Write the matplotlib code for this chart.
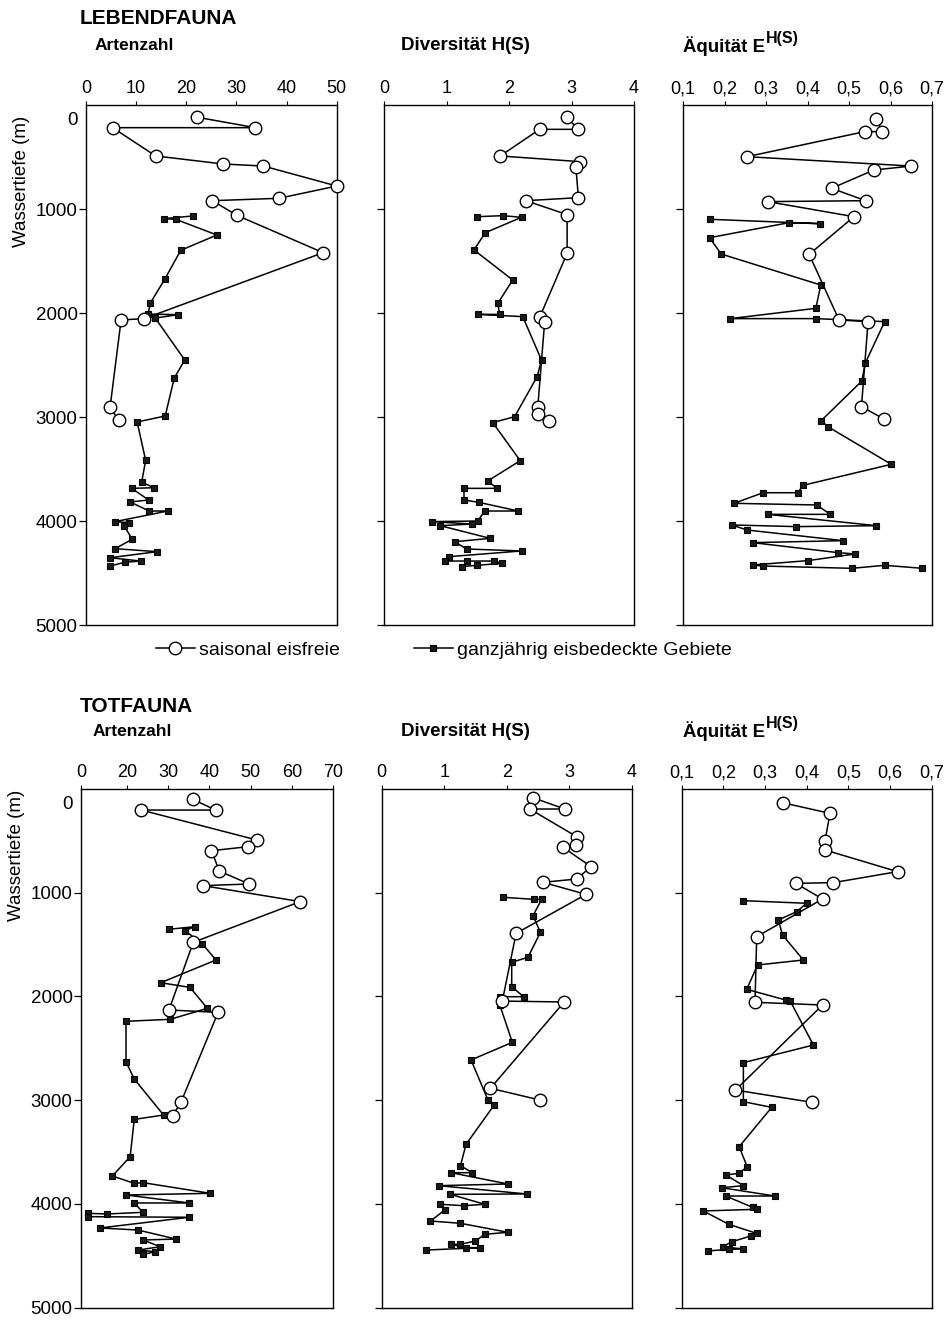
import matplotlib
matplotlib.use('Agg')
import matplotlib.pyplot as plt
from matplotlib.lines import Line2D

plt.rcParams['font.family'] = ['Liberation Sans', 'DejaVu Sans']

# ---------------- DATA ----------------
# LEBENDFAUNA - Artenzahl
leb_art_circ_val = [22.2, 33.8, 5.3, 13.9, 27.3, 35.4, 50.0, 38.5, 25.2, 30.1, 47.3, 11.6, 7.0, 4.8, 6.5]
leb_art_circ_dep = [118, 218, 218, 490, 567, 587, 779, 897, 920, 1061, 1420, 2054, 2067, 2907, 3029]
leb_art_sq_val = [21.3, 15.5, 17.9, 26.1, 18.9, 15.7, 12.8, 12.4, 18.4, 13.8, 19.7, 17.6, 15.8, 10.2, 11.9,
                  11.1, 13.6, 9.1, 12.5, 8.8, 12.6, 16.3, 5.8, 8.6, 7.6, 9.2, 5.8, 14.2, 4.8, 10.9, 7.7, 4.8]
leb_art_sq_dep = [1067, 1093, 1099, 1250, 1397, 1676, 1907, 2010, 2016, 2048, 2452, 2625, 2990, 3048, 3417,
                  3628, 3680, 3686, 3798, 3817, 3904, 3904, 4006, 4016, 4045, 4176, 4266, 4295, 4353, 4385, 4397, 4433]

# LEBENDFAUNA - Diversitaet
leb_div_circ_val = [2.92, 3.11, 2.49, 1.86, 3.14, 3.07, 3.11, 2.27, 2.93, 2.93, 2.49, 2.57, 2.46, 2.46, 2.64]
leb_div_circ_dep = [118, 234, 234, 490, 545, 593, 891, 920, 1054, 1426, 2042, 2090, 2907, 2971, 3035]
leb_div_sq_val = [1.49, 1.90, 2.20, 1.62, 1.44, 2.06, 1.82, 1.85, 1.50, 2.22, 2.52, 2.45, 2.09, 1.74, 2.18,
                  1.66, 1.81, 1.28, 1.28, 1.52, 2.15, 1.61, 1.50, 0.76, 1.41, 0.90, 1.70, 1.13, 1.32, 2.20,
                  1.04, 0.97, 1.32, 1.76, 1.88, 1.49, 1.24]
leb_div_sq_dep = [1074, 1064, 1080, 1228, 1394, 1683, 1907, 2013, 2013, 2035, 2452, 2612, 2997, 3054, 3420,
                  3615, 3686, 3686, 3798, 3821, 3904, 3904, 4000, 4006, 4029, 4045, 4167, 4199, 4269, 4288,
                  4343, 4385, 4385, 4385, 4407, 4426, 4439]

# LEBENDFAUNA - Aequitaet
leb_aeq_circ_val = [0.566, 0.58, 0.538, 0.254, 0.65, 0.56, 0.458, 0.54, 0.304, 0.512, 0.404, 0.476, 0.546, 0.53, 0.584]
leb_aeq_circ_dep = [131, 256, 256, 497, 587, 625, 801, 920, 929, 1074, 1436, 2067, 2083, 2900, 3019]
leb_aeq_sq_val = [0.164, 0.43, 0.356, 0.164, 0.192, 0.432, 0.42, 0.214, 0.42, 0.586, 0.539, 0.531, 0.433, 0.449,
                  0.602, 0.389, 0.377, 0.293, 0.223, 0.422, 0.455, 0.304, 0.566, 0.373, 0.217, 0.255, 0.486,
                  0.268, 0.473, 0.515, 0.401, 0.268, 0.293, 0.507, 0.586, 0.677]
leb_aeq_sq_dep = [1099, 1141, 1131, 1276, 1433, 1731, 1955, 2054, 2054, 2083, 2484, 2654, 3035, 3093,
                  3455, 3657, 3728, 3728, 3830, 3846, 3936, 3936, 4045, 4054, 4038, 4087, 4189,
                  4208, 4304, 4317, 4381, 4423, 4433, 4455, 4426, 4455]

# TOTFAUNA - Artenzahl
tot_art_circ_val = [36.0, 41.5, 23.5, 51.5, 49.4, 40.5, 42.4, 49.6, 38.5, 62.0, 36.1, 30.2, 42.1, 33.1, 31.1]
tot_art_circ_dep = [100, 203, 203, 492, 556, 595, 791, 916, 932, 1086, 1478, 2131, 2154, 3021, 3150]
tot_art_sq_val = [30.1, 36.4, 34.1, 38.3, 41.6, 28.2, 35.3, 39.5, 30.5, 19.8, 19.8, 21.8, 28.9, 21.8, 20.8,
                  16.5, 21.8, 23.9, 40.2, 19.8, 35.1, 21.8, 23.9, 15.3, 10.6, 10.6, 35.1, 13.5, 22.7, 31.9,
                  23.9, 28.1, 22.7, 26.9, 23.9]
tot_art_sq_dep = [1353, 1328, 1366, 1495, 1649, 1868, 1913, 2115, 2221, 2240, 2630, 2797, 3144, 3186, 3546,
                  3732, 3803, 3796, 3899, 3915, 3992, 3992, 4082, 4098, 4092, 4124, 4130, 4233, 4253, 4340,
                  4349, 4414, 4446, 4462, 4488]

# TOTFAUNA - Diversitaet
tot_div_circ_val = [2.42, 2.93, 2.37, 3.12, 3.11, 2.90, 3.35, 3.12, 2.58, 3.27, 2.15, 1.93, 2.92, 1.74, 2.53]
tot_div_circ_dep = [84, 193, 193, 460, 540, 562, 749, 868, 900, 1016, 1392, 2045, 2054, 2886, 2999]
tot_div_sq_val = [1.94, 2.43, 2.56, 2.42, 2.54, 2.34, 2.08, 2.08, 2.27, 1.89, 1.89, 1.89, 2.09, 1.43, 1.70,
                  1.80, 1.35, 1.26, 1.45, 1.11, 2.02, 0.91, 2.32, 1.10, 1.65, 1.31, 0.94, 1.01, 0.78, 1.26,
                  2.02, 1.65, 1.50, 1.25, 1.11, 1.35, 1.58, 0.71]
tot_div_sq_dep = [1044, 1064, 1064, 1222, 1382, 1623, 1671, 1906, 2003, 2003, 2041, 2083, 2443, 2613, 2999,
                  3047, 3426, 3632, 3700, 3700, 3809, 3825, 3905, 3909, 4005, 4018, 4005, 4060, 4166, 4188,
                  4275, 4294, 4359, 4391, 4391, 4423, 4423, 4446]

# TOTFAUNA - Aequitaet
tot_aeq_circ_val = [0.342, 0.456, 0.444, 0.444, 0.618, 0.464, 0.374, 0.438, 0.28, 0.276, 0.438, 0.229, 0.412]
tot_aeq_circ_dep = [132, 235, 498, 588, 797, 903, 910, 1061, 1424, 2057, 2083, 2903, 3021]
tot_aeq_sq_val = [0.248, 0.40, 0.376, 0.332, 0.342, 0.392, 0.282, 0.256, 0.35, 0.36, 0.416, 0.248, 0.248,
                  0.316, 0.238, 0.257, 0.238, 0.206, 0.248, 0.196, 0.324, 0.206, 0.27, 0.28, 0.152, 0.213,
                  0.28, 0.266, 0.221, 0.198, 0.248, 0.213, 0.162]
tot_aeq_sq_dep = [1077, 1102, 1183, 1263, 1408, 1649, 1697, 1932, 2035, 2041, 2469, 2639, 3015,
                  3070, 3449, 3642, 3706, 3722, 3825, 3845, 3925, 3925, 4034, 4053, 4069, 4198,
                  4285, 4310, 4365, 4414, 4436, 4439, 4455]

# Axis tick labels
depth_ticks = [1000, 2000, 3000, 4000, 5000]
depth_ticklabels = ['1000', '2000', '3000', '4000', '5000']
art_top_ticks = [0, 10, 20, 30, 40, 50]
art_top_labels = ['0', '10', '20', '30', '40', '50']
art_bot_ticks = [8.9, 20, 30, 40, 50, 60, 70]
art_bot_labels = ['0', '20', '30', '40', '50', '60', '70']
div_ticks = [0, 1, 2, 3, 4]
div_labels = ['0', '1', '2', '3', '4']
aeq_ticks = [0.1, 0.2, 0.3, 0.4, 0.5, 0.6, 0.7]
aeq_labels = ['0,1', '0,2', '0,3', '0,4', '0,5', '0,6', '0,7']

legend_labels = ['saisonal eisfreie', 'ganzjährig eisbedeckte Gebiete']

# ---------------- FIGURE ----------------
W, H = 946, 1323
fig = plt.figure(figsize=(W / 100, H / 100), dpi=100)


def rect(l, r, t, b):
    return [l / W, 1 - b / H, (r - l) / W, (b - t) / H]


SQ = dict(color='k', lw=1.1, marker='s', ms=4.6, mfc='#1a1a1a', mec='k', mew=0.8, clip_on=False, zorder=2)
CI = dict(color='k', lw=1.1, marker='o', ms=9, mfc='white', mec='k', mew=1.0, clip_on=False, zorder=3)


def panel(px, xlim, xt, xtl, cv, cd, sv, sd, show_ylabels):
    ax = fig.add_axes(rect(*px))
    ax.plot(sv, sd, **SQ)
    ax.plot(cv, cd, **CI)
    ax.set_xlim(*xlim)
    ax.set_ylim(5000, 0)
    ax.xaxis.tick_top()
    ax.set_xticks(xt)
    ax.set_xticklabels(xtl)
    ax.tick_params(axis='x', direction='out', length=3, width=0.8, pad=2.5, labelsize=13)
    ax.tick_params(axis='y', direction='out', length=5, width=0.9, pad=1, labelsize=13.5)
    if show_ylabels:
        ax.set_yticks([130] + depth_ticks)
        ax.set_yticklabels(['0'] + depth_ticklabels)
        ax.yaxis.get_major_ticks()[0].tick1line.set_visible(False)
    else:
        ax.set_yticks(depth_ticks)
        ax.set_yticklabels([])
    for s in ax.spines.values():
        s.set_linewidth(1.0)
    return ax


# top row
panel((86, 336.7, 105, 625), (0, 50), art_top_ticks, art_top_labels,
      leb_art_circ_val, leb_art_circ_dep, leb_art_sq_val, leb_art_sq_dep, True)
panel((384, 634, 105, 625), (0, 4), div_ticks, div_labels,
      leb_div_circ_val, leb_div_circ_dep, leb_div_sq_val, leb_div_sq_dep, False)
panel((683, 932, 105, 625), (0.1, 0.7), aeq_ticks, aeq_labels,
      leb_aeq_circ_val, leb_aeq_circ_dep, leb_aeq_sq_val, leb_aeq_sq_dep, False)

# bottom row
panel((81, 333.3, 789, 1307.5), (8.9, 70), art_bot_ticks, art_bot_labels,
      tot_art_circ_val, tot_art_circ_dep, tot_art_sq_val, tot_art_sq_dep, True)
panel((381.7, 631.7, 789, 1307.5), (0, 4), div_ticks, div_labels,
      tot_div_circ_val, tot_div_circ_dep, tot_div_sq_val, tot_div_sq_dep, False)
panel((681.7, 931.7, 789, 1307.5), (0.1, 0.7), aeq_ticks, aeq_labels,
      tot_aeq_circ_val, tot_aeq_circ_dep, tot_aeq_sq_val, tot_aeq_sq_dep, False)


# titles
def ft(x, y, s, **kw):
    return fig.text(x / W, 1 - y / H, s, **kw)


ft(80, 18, 'LEBENDFAUNA', fontsize=15, fontweight='bold', va='center')
ft(95, 46, 'Artenzahl', fontsize=12.5, fontweight='bold', va='center')
ft(401, 46, 'Diversität H(S)', fontsize=13.5, fontweight='bold', va='center')

ft(80, 706, 'TOTFAUNA', fontsize=15, fontweight='bold', va='center')
ft(93, 731, 'Artenzahl', fontsize=12.5, fontweight='bold', va='center')
ft(401, 731, 'Diversität H(S)', fontsize=13.5, fontweight='bold', va='center')

fig.canvas.draw()
renderer = fig.canvas.get_renderer()
for yy in (46, 731):
    t = ft(683, yy, 'Äquität E', fontsize=13.5, fontweight='bold', va='center')
    bb = t.get_window_extent(renderer)
    fig.text(bb.x1 / W + 1 / W, 1 - (yy - 7) / H, 'H(S)', fontsize=11.5, fontweight='bold', va='center')

ft(22, 181, 'Wassertiefe (m)', fontsize=13.5, rotation=90, va='center', ha='center')
ft(17, 855, 'Wassertiefe (m)', fontsize=13.5, rotation=90, va='center', ha='center')

# legend
h1 = Line2D([], [], color='k', lw=1.1, marker='o', ms=9, mfc='white', mec='k', mew=1.0)
h2 = Line2D([], [], color='k', lw=1.1, marker='s', ms=4.6, mfc='#1a1a1a', mec='k', mew=0.8)
for h, lab, x in [(h1, legend_labels[0], 156), (h2, legend_labels[1], 414)]:
    fig.legend([h], [lab], loc='center left', bbox_to_anchor=(x / W, 1 - 650 / H),
               frameon=False, fontsize=14, handlelength=2.0, handletextpad=0.2,
               borderpad=0, borderaxespad=0, numpoints=1)

fig.savefig('out.png', dpi=100)
